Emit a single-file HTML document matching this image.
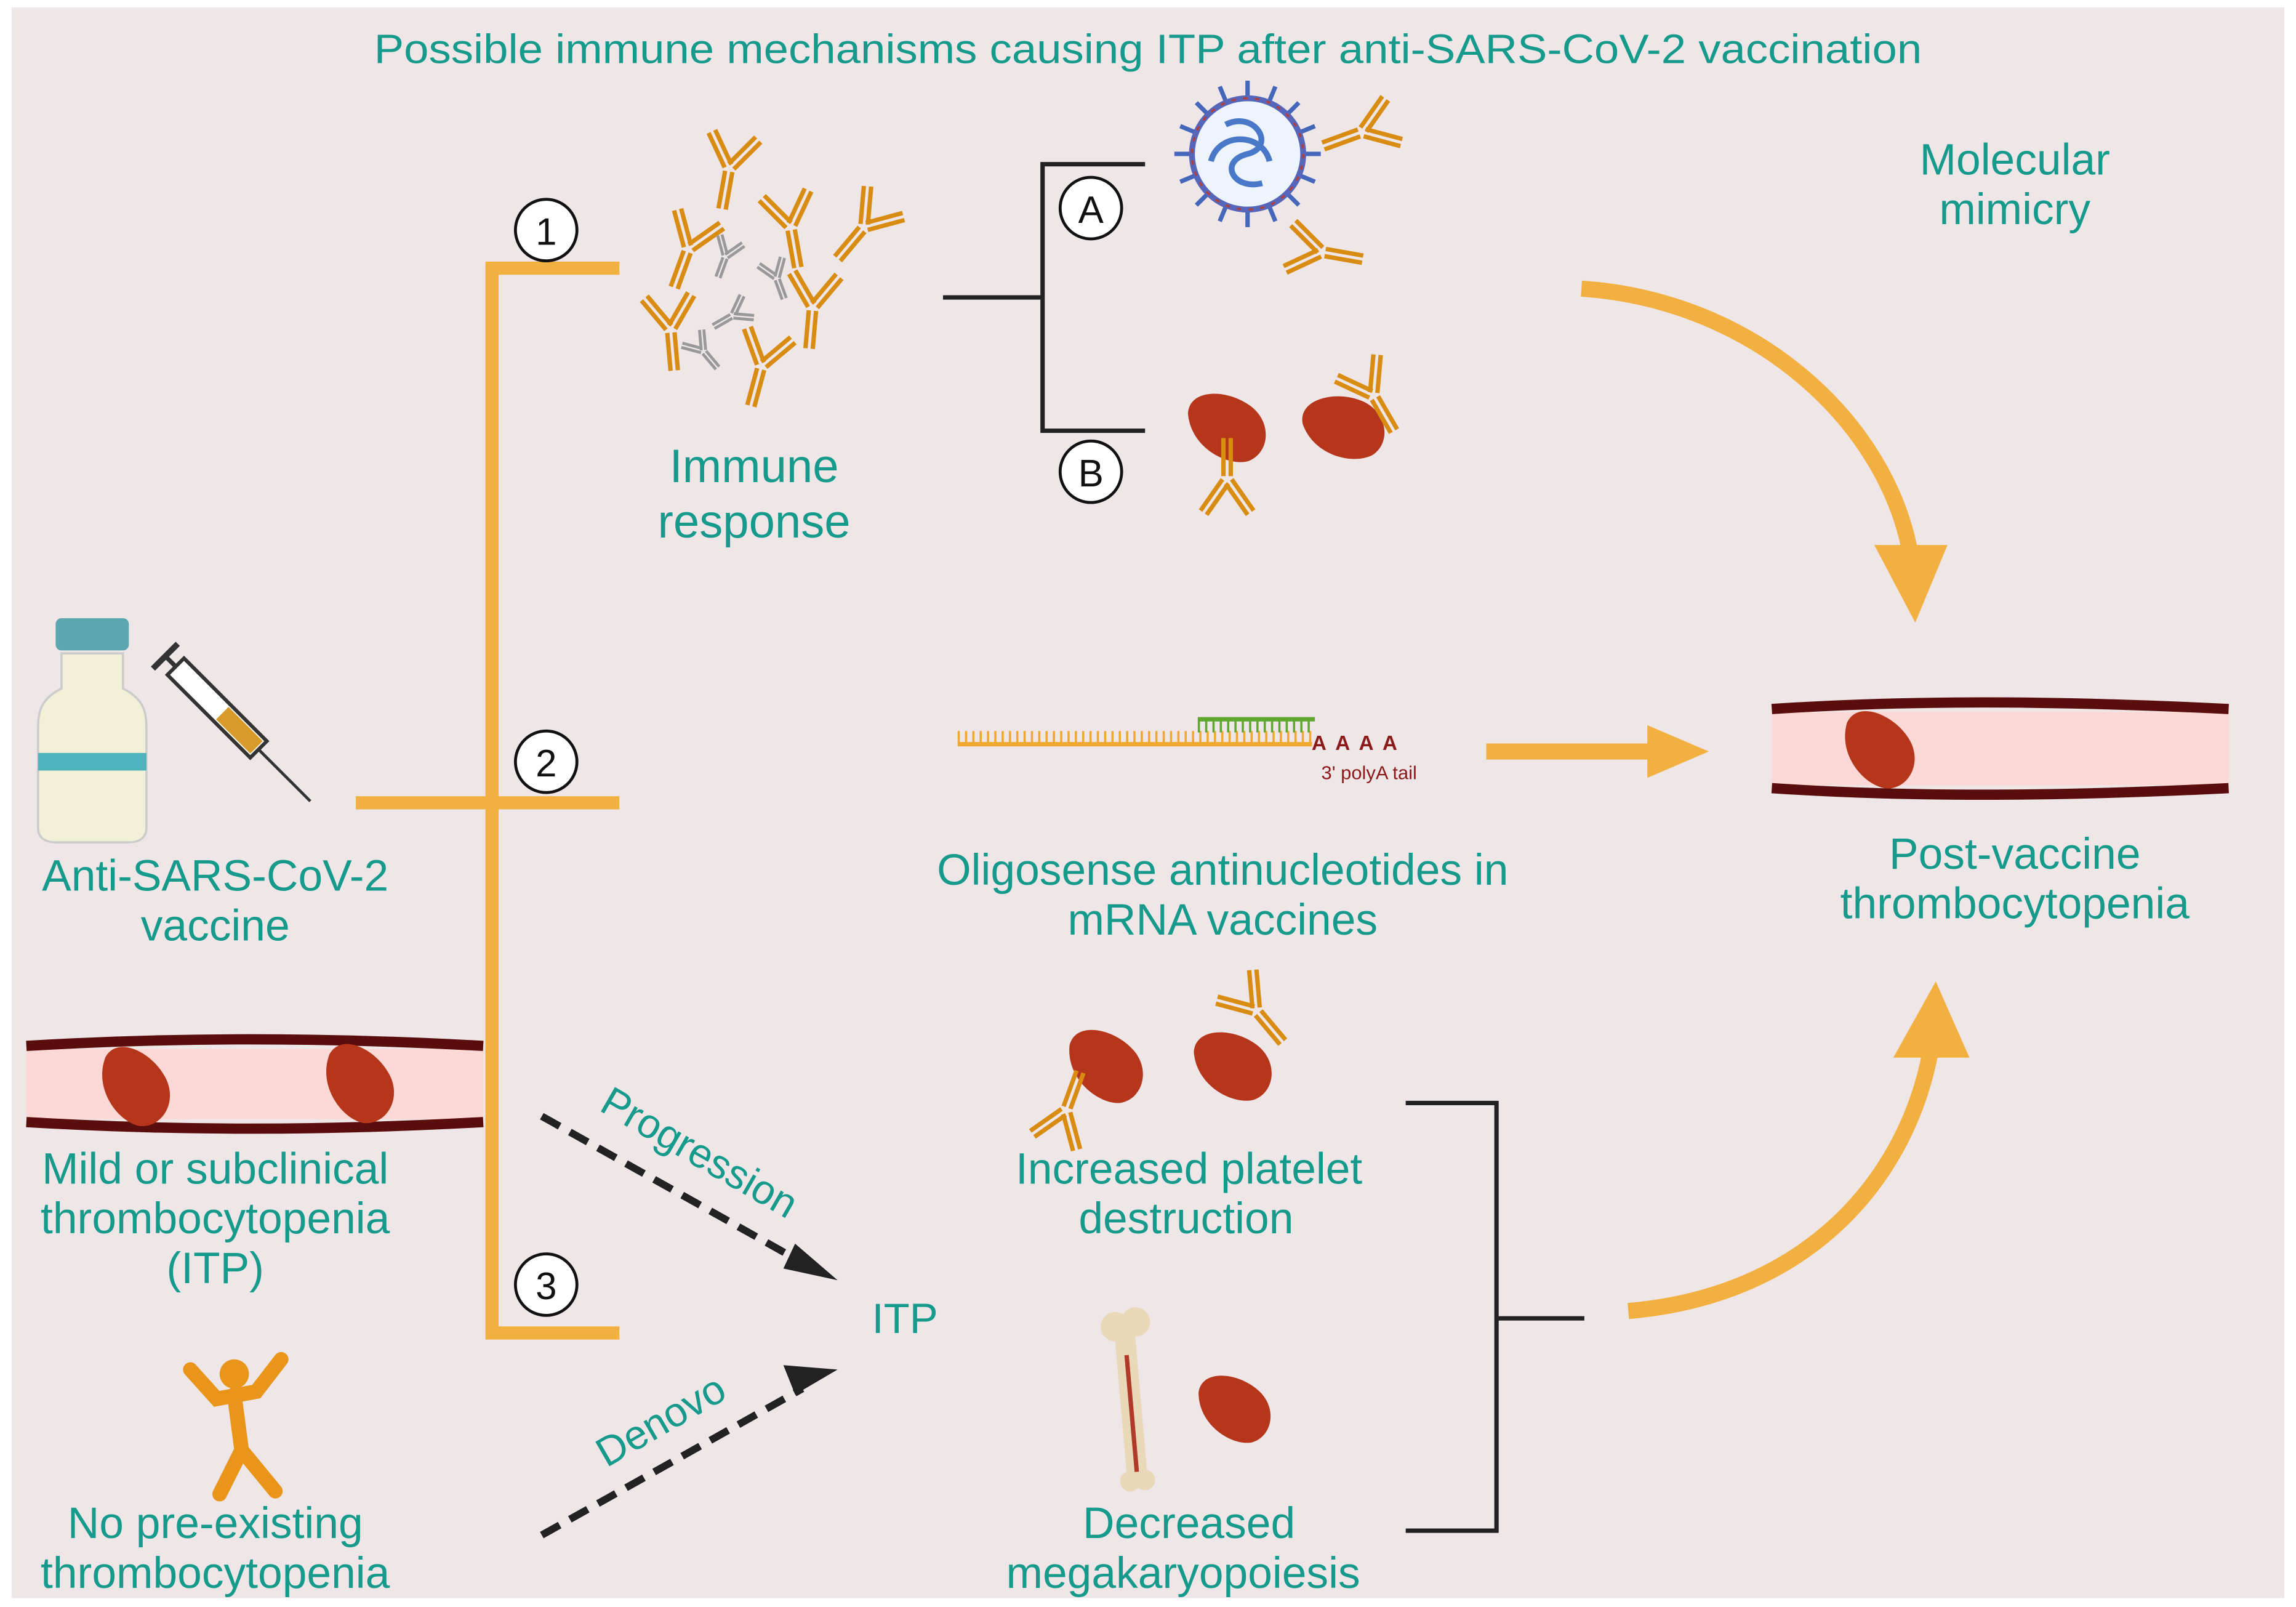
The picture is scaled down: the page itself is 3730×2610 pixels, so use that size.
<!DOCTYPE html>
<html><head><meta charset="utf-8"><style>
html,body{margin:0;padding:0;background:#fff;}
svg{display:block;}
text{font-family:"Liberation Sans",sans-serif;fill:#169a8c;text-anchor:middle;}
</style></head><body>
<svg width="3730" height="2610" viewBox="0 0 1568 1097" xmlns="http://www.w3.org/2000/svg">
<defs>
<g id="ab">
 <rect x="-4" y="2" width="3" height="26" fill="#d98c12"/><rect x="1" y="2" width="3" height="26" fill="#d98c12"/>
 <g transform="rotate(-35)"><rect x="-4" y="-28" width="3" height="26" fill="#d98c12"/><rect x="1" y="-28" width="3" height="26" fill="#d98c12"/></g>
 <g transform="rotate(35)"><rect x="-4" y="-28" width="3" height="26" fill="#d98c12"/><rect x="1" y="-28" width="3" height="26" fill="#d98c12"/></g>
</g>
<g id="abg">
 <rect x="-2" y="1" width="2" height="14" fill="#999"/><rect x="1" y="1" width="2" height="14" fill="#999"/>
 <g transform="rotate(-35)"><rect x="-2" y="-15" width="2" height="14" fill="#999"/><rect x="1" y="-15" width="2" height="14" fill="#999"/></g>
 <g transform="rotate(35)"><rect x="-2" y="-15" width="2" height="14" fill="#999"/><rect x="1" y="-15" width="2" height="14" fill="#999"/></g>
</g>
<path id="plt" d="M-28,-5 C-30,-22 -5,-26 12,-18 C30,-10 32,12 18,20 C5,26 -22,18 -28,-5 Z" fill="#b5361a"/>
</defs>
<rect x="8" y="5" width="1552" height="1086" fill="#efe6e7"/>
<text x="784" y="43" font-size="28" textLength="1057" lengthAdjust="spacingAndGlyphs">Possible immune mechanisms causing ITP after anti-SARS-CoV-2 vaccination</text>

<g stroke="#f2b041" stroke-width="9" fill="none">
<path d="M423,183 H336 V910 H423"/>
<path d="M243,548 H423"/>
</g>
<g fill="#fff" stroke="#111" stroke-width="2">
<circle cx="373" cy="157" r="21"/><circle cx="373" cy="520" r="21"/><circle cx="373" cy="877" r="21"/>
<circle cx="745" cy="142" r="21"/><circle cx="745" cy="322" r="21"/>
</g>
<g font-size="26"><text x="373" y="167" style="fill:#111">1</text><text x="373" y="530" style="fill:#111">2</text><text x="373" y="887" style="fill:#111">3</text>
<text x="745" y="152" style="fill:#111">A</text><text x="745" y="332" style="fill:#111">B</text></g>

<use href="#ab" transform="translate(498,115) rotate(10)"/>
<use href="#ab" transform="translate(540,155) rotate(-10)"/>
<use href="#ab" transform="translate(590,155) rotate(40)"/>
<use href="#ab" transform="translate(470,170) rotate(20)"/>
<use href="#ab" transform="translate(458,225) rotate(-5)"/>
<use href="#ab" transform="translate(555,210) rotate(5)"/>
<use href="#ab" transform="translate(520,250) rotate(15)"/>
<use href="#abg" transform="translate(495,175) rotate(20)"/>
<use href="#abg" transform="translate(530,190) rotate(-20)"/>
<use href="#abg" transform="translate(500,215) rotate(60)"/>
<use href="#abg" transform="translate(480,240) rotate(-40)"/>
<text x="515" y="329" font-size="32">Immune</text>
<text x="515" y="367" font-size="32">response</text>

<path d="M644,203 H712 M782,112 H712 V294 H782" stroke="#222" stroke-width="3" fill="none"/>
<g transform="translate(852,105)">
<g stroke="#4466bb" stroke-width="3">
<line x1="0" y1="-50" x2="0" y2="50"/><line x1="-50" y1="0" x2="50" y2="0"/><line x1="-35" y1="-35" x2="35" y2="35"/><line x1="-35" y1="35" x2="35" y2="-35"/>
<line x1="-19" y1="-46" x2="19" y2="46"/><line x1="19" y1="-46" x2="-19" y2="46"/><line x1="-46" y1="-19" x2="46" y2="19"/><line x1="-46" y1="19" x2="46" y2="-19"/>
</g>
<circle r="38" fill="#eef4fb" stroke="#5566bb" stroke-width="4"/>
<circle r="38" fill="none" stroke="#b04040" stroke-width="1.5" stroke-dasharray="3 5"/>
<path d="M-15,-20 C5,-30 20,-5 0,0 C-20,5 -10,25 10,20 M-25,5 C-20,-15 10,-15 15,5" stroke="#4a78c8" stroke-width="4" fill="none"/>
</g>
<use href="#ab" transform="translate(930,90) rotate(70)"/>
<use href="#ab" transform="translate(903,172) rotate(-80)"/>
<use href="#plt" transform="translate(838,292) rotate(10)"/>
<use href="#plt" transform="translate(918,292) rotate(-5)"/>
<use href="#ab" transform="translate(838,327) rotate(180)"/>
<use href="#ab" transform="translate(938,270) rotate(-30)"/>

<text x="1376" y="119" font-size="30">Molecular</text>
<text x="1376" y="153" font-size="30">mimicry</text>
<path d="M1080,197 C1200,205 1290,290 1305,380" stroke="#f2b041" stroke-width="11" fill="none"/>
<path d="M1280,372 L1330,372 L1308,425 Z" fill="#f2b041"/>

<line x1="654" y1="508" x2="896" y2="508" stroke="#f0a830" stroke-width="3"/>
<line x1="654" y1="503" x2="896" y2="503" stroke="#f0a830" stroke-width="8" stroke-dasharray="1.5 3.5"/>
<line x1="818" y1="491" x2="898" y2="491" stroke="#5fa830" stroke-width="3"/>
<line x1="818" y1="496" x2="898" y2="496" stroke="#5fa830" stroke-width="8" stroke-dasharray="1.5 3.5"/>
<text x="928" y="512" font-size="14" font-weight="bold" style="fill:#8b1a1a" letter-spacing="6">AAAA</text>
<text x="935" y="532" font-size="13" style="fill:#8b1a1a">3' polyA tail</text>
<line x1="1015" y1="513" x2="1130" y2="513" stroke="#f2b041" stroke-width="11"/>
<path d="M1125,495 L1167,513 L1125,531 Z" fill="#f2b041"/>
<text x="835" y="604" font-size="30">Oligosense antinucleotides in</text>
<text x="835" y="638" font-size="30">mRNA vaccines</text>

<rect x="1210" y="486" width="312" height="50" fill="#fcd9d6"/>
<path d="M1210,484 C1300,478 1400,478 1522,484" stroke="#5a0d0d" stroke-width="7" fill="none"/>
<path d="M1210,538 C1300,544 1400,544 1522,538" stroke="#5a0d0d" stroke-width="7" fill="none"/>
<use href="#plt" transform="translate(1283,512) rotate(30)"/>
<text x="1376" y="593" font-size="30">Post-vaccine</text>
<text x="1376" y="627" font-size="30">thrombocytopenia</text>

<rect x="38" y="422" width="50" height="22" rx="4" fill="#5aa7b0"/>
<path d="M42,446 H84 V470 C100,478 100,488 100,500 V565 C100,572 95,575 88,575 H38 C31,575 26,572 26,565 V500 C26,488 26,478 42,470 Z" fill="#f3f0d8" stroke="#ccc" stroke-width="1.5"/>
<rect x="26" y="514" width="74" height="12" fill="#4fb3bd"/>
<g transform="translate(120,455) rotate(45)">
<rect x="0" y="-8" width="80" height="16" fill="#fff" stroke="#333" stroke-width="2.5"/>
<rect x="45" y="-6" width="33" height="12" fill="#d89a2a"/>
<line x1="-10" y1="-12" x2="-10" y2="12" stroke="#333" stroke-width="4"/>
<line x1="-10" y1="0" x2="0" y2="0" stroke="#333" stroke-width="3"/>
<line x1="80" y1="0" x2="130" y2="0" stroke="#333" stroke-width="2"/>
</g>
<text x="147" y="608" font-size="30">Anti-SARS-CoV-2</text>
<text x="147" y="642" font-size="30">vaccine</text>

<rect x="18" y="716" width="312" height="48" fill="#fcd9d6"/>
<path d="M18,714 C120,708 220,708 330,714" stroke="#5a0d0d" stroke-width="7" fill="none"/>
<path d="M18,766 C120,772 220,772 330,766" stroke="#5a0d0d" stroke-width="7" fill="none"/>
<use href="#plt" transform="translate(92,742) rotate(35)"/>
<use href="#plt" transform="translate(245,740) rotate(35)"/>
<text x="147" y="808" font-size="30">Mild or subclinical</text>
<text x="147" y="842" font-size="30">thrombocytopenia</text>
<text x="147" y="876" font-size="30">(ITP)</text>

<g stroke="#e8951a" stroke-width="10" stroke-linecap="round" fill="none">
<path d="M130,935 L148,955 L175,950 L192,928"/>
<path d="M160,952 L165,990 L150,1020 M165,990 L188,1018"/>
</g>
<circle cx="160" cy="938" r="10" fill="#e8951a"/>
<text x="147" y="1050" font-size="30">No pre-existing</text>
<text x="147" y="1084" font-size="30">thrombocytopenia</text>

<line x1="370" y1="762" x2="548" y2="862" stroke="#222" stroke-width="5" stroke-dasharray="14 8"/>
<path d="M543,849 L572,874 L535,866 Z" fill="#222"/>
<line x1="370" y1="1048" x2="548" y2="948" stroke="#222" stroke-width="5" stroke-dasharray="14 8"/>
<path d="M535,932 L572,935 L543,952 Z" fill="#222"/>
<text transform="translate(473,795) rotate(30)" font-size="28">Progression</text>
<text transform="translate(456,978) rotate(-30)" font-size="28">Denovo</text>
<text x="618" y="910" font-size="29">ITP</text>

<use href="#plt" transform="translate(755,728) rotate(20)"/>
<use href="#plt" transform="translate(842,728) rotate(10)"/>
<use href="#ab" transform="translate(728,758) rotate(200)"/>
<use href="#ab" transform="translate(858,690) rotate(-40)"/>
<text x="812" y="808" font-size="30">Increased platelet</text>
<text x="810" y="842" font-size="30">destruction</text>
<g transform="translate(772,955) rotate(-5)">
<rect x="-7" y="-45" width="14" height="100" fill="#e9d9b8"/>
<line x1="0" y1="-30" x2="0" y2="50" stroke="#b03a2a" stroke-width="3"/>
<circle cx="-6" cy="-50" r="10" fill="#e9d9b8"/><circle cx="8" cy="-52" r="10" fill="#e9d9b8"/>
<circle cx="-5" cy="56" r="7" fill="#e9d9b8"/><circle cx="5" cy="56" r="7" fill="#e9d9b8"/>
</g>
<use href="#plt" transform="translate(843,962) rotate(15) scale(0.95)"/>
<text x="812" y="1050" font-size="30">Decreased</text>
<text x="808" y="1084" font-size="30">megakaryopoiesis</text>

<path d="M960,753 H1022 V1045 H960 M1022,900 H1082" stroke="#222" stroke-width="3" fill="none"/>
<path d="M1112,895 C1230,885 1300,810 1318,720" stroke="#f2b041" stroke-width="11" fill="none"/>
<path d="M1293,722 L1345,722 L1322,670 Z" fill="#f2b041"/>
</svg>
</body></html>
